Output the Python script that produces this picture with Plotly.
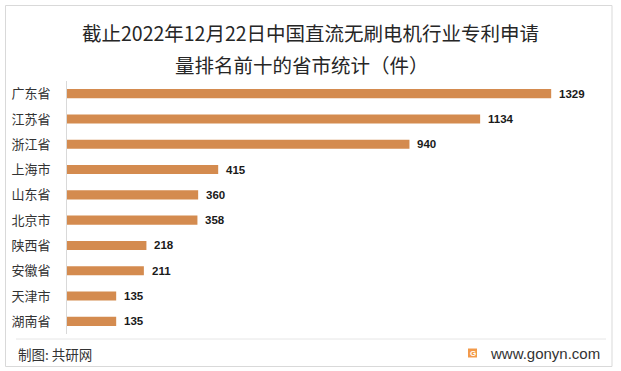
import plotly.graph_objects as go

provinces = ["广东省", "江苏省", "浙江省", "上海市", "山东省", "北京市", "陕西省", "安徽省", "天津市", "湖南省"]
patents = [1329, 1134, 940, 415, 360, 358, 218, 211, 135, 135]

title_lines = ["截止2022年12月22日中国直流无刷电机行业专利申请", "量排名前十的省市统计（件）"]
source_text = "制图: 共研网"
site_text = "www.gonyn.com"

W, H = 621, 371
L, R, T, B = 67, 21, 81, 37
pw = W - L - R
ph = H - T - B

def px_x(p):
    return (p - L) / pw

def px_y(p):
    return (H - B - p) / ph

cjk = "Noto Sans CJK SC, Microsoft YaHei, sans-serif"

fig = go.Figure()
fig.add_trace(go.Bar(
    x=patents, y=provinces, orientation="h",
    marker=dict(color="#D48B4F", line=dict(width=0)),
    width=0.36,
    hoverinfo="skip",
))

annotations = []
for p, v in zip(provinces, patents):
    annotations.append(dict(
        x=v, y=p, xref="x", yref="y", text=f"<b>{v}</b>", showarrow=False,
        xanchor="left", yanchor="middle", xshift=6,
        font=dict(family="Arial, Liberation Sans", size=11.5, color="#1a1a1a"),
    ))

for line, cx, cy in zip(title_lines, [310, 302], [32, 65]):
    annotations.append(dict(
        x=px_x(cx), y=px_y(cy), xref="paper", yref="paper", text=line,
        showarrow=False, xanchor="center", yanchor="middle", align="center",
        font=dict(family=cjk, size=19.5, color="#262626"),
    ))
annotations.append(dict(
    x=px_x(16), y=px_y(354), xref="paper", yref="paper", text=source_text,
    showarrow=False, xanchor="left", yanchor="middle",
    font=dict(family=cjk, size=13.5, color="#333333"),
))
annotations.append(dict(
    x=px_x(602), y=px_y(353), xref="paper", yref="paper", text=site_text,
    showarrow=False, xanchor="right", yanchor="middle",
    font=dict(family="Arial, Liberation Sans", size=15, color="#333333"),
))
annotations.append(dict(
    x=px_x(472.5), y=px_y(353), xref="paper", yref="paper", text="<b>G</b>",
    showarrow=False, xanchor="center", yanchor="middle",
    font=dict(family="Arial", size=8, color="white"),
))

shapes = [
    dict(type="rect", xref="paper", yref="paper",
         x0=px_x(5.5), x1=px_x(612), y0=px_y(5.5), y1=px_y(366.5),
         line=dict(color="#d9d9d9", width=1), fillcolor="rgba(0,0,0,0)", layer="below"),
    dict(type="line", xref="paper", yref="paper",
         x0=px_x(16), x1=px_x(606), y0=px_y(339), y1=px_y(339),
         line=dict(color="#e6e6e6", width=1)),
    dict(type="rect", xref="paper", yref="paper",
         x0=px_x(468), x1=px_x(477), y0=px_y(348.5), y1=px_y(357.5),
         line=dict(width=0), fillcolor="#F29A4A"),
]

fig.update_layout(
    width=W, height=H,
    margin=dict(l=L, r=R, t=T, b=B, pad=0),
    paper_bgcolor="white", plot_bgcolor="white",
    showlegend=False,
    annotations=annotations,
    shapes=shapes,
    bargap=0.64,
    xaxis=dict(range=[0, 1463], visible=False, fixedrange=True),
    yaxis=dict(
        autorange="reversed", showline=True, linecolor="#d9d9d9", linewidth=1,
        showgrid=False, ticks="", ticklabelstandoff=13,
        tickfont=dict(family=cjk, size=13, color="#333333"),
        fixedrange=True,
    ),
)

fig.write_html(
    "out.html",
    config={"displayModeBar": False},
    post_script="document.body.style.margin='0';document.body.style.overflow='hidden';",
)
